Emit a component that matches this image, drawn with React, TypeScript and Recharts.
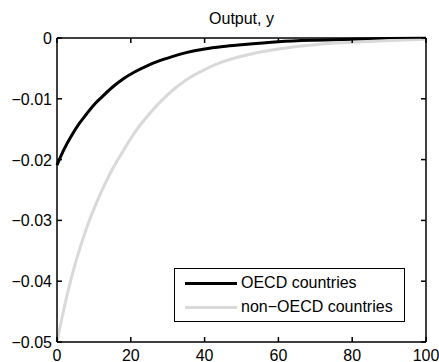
import React from 'react';
import { LineChart, Line, XAxis, YAxis } from 'recharts';

// ─── Data ────────────────────────────────────────────────────────────────────

const periods = [0, 2, 4, 6, 8, 10, 12, 15, 18, 21, 25, 30, 35, 40, 45, 50, 60, 70, 80, 90, 100];
const oecd = [
  -0.0209, -0.0182, -0.0160, -0.0141, -0.0125, -0.0110, -0.0098, -0.0081, -0.0067, -0.0056,
  -0.0044, -0.0033, -0.0024, -0.0018, -0.0014, -0.0011, -0.0006, -0.00035, -0.0002, -0.0001, -0.00005,
];
const nonOecd = [
  -0.0500, -0.0442, -0.0392, -0.0350, -0.0313, -0.0281, -0.0253, -0.0216, -0.0185, -0.0156,
  -0.0125, -0.0093, -0.0069, -0.0052, -0.0039, -0.0030, -0.0018, -0.0011, -0.0007, -0.0004, -0.0002,
];
const seriesLabels = ['OECD countries', 'non\u2212OECD countries'];
const xTicks = [0, 20, 40, 60, 80, 100];
const yTicks = [-0.05, -0.04, -0.03, -0.02, -0.01, 0];

const data = periods.map((t, i) => ({ t, oecd: oecd[i], nonOecd: nonOecd[i] }));

// ─── Style ───────────────────────────────────────────────────────────────────

const FONT = '"Liberation Sans", Arial, Helvetica, sans-serif';
const FS = 16;
const TICK = 5;
const LW = 1.5; // frame + tick width (1px lines dropped out of the render)
const C = { oecd: '#000000', nonOecd: '#d9d9d9', axis: '#000000' };
const X_DOMAIN: [number, number] = [0, 100];
const Y_DOMAIN: [number, number] = [-0.05, 0];

function fmtY(v: number): string {
  return v === 0 ? '0' : '\u2212' + Math.abs(v).toFixed(2);
}

// inward MATLAB-style ticks on all four sides (box on)
const BottomTick = (p: any) => (
  <g>
    <line x1={p.x} x2={p.x} y1={p.y} y2={p.y - TICK} stroke={C.axis} strokeWidth={LW} />
    <text x={p.x} y={p.y + 19} textAnchor="middle" fontSize={FS} fontFamily={FONT} fill="#000">
      {p.payload.value}
    </text>
  </g>
);
const TopTick = (p: any) => (
  <g><line x1={p.x} x2={p.x} y1={p.y} y2={p.y + TICK} stroke={C.axis} strokeWidth={LW} /></g>
);
const LeftTick = (p: any) => (
  <g>
    <line x1={p.x} x2={p.x + TICK} y1={p.y} y2={p.y} stroke={C.axis} strokeWidth={LW} />
    <text x={p.x - 5} y={p.y + 6} textAnchor="end" fontSize={FS} fontFamily={FONT} fill="#000">
      {fmtY(p.payload.value)}
    </text>
  </g>
);
const RightTick = (p: any) => (
  <g><line x1={p.x} x2={p.x - TICK} y1={p.y} y2={p.y} stroke={C.axis} strokeWidth={LW} /></g>
);

const LegendBox = () => (
  <div style={{
    position: 'absolute', left: 174, top: 268, width: 231, height: 54, boxSizing: 'border-box',
    border: '1.5px solid #000', background: '#fff', fontFamily: FONT, fontSize: FS, color: '#000',
  }}>
    {[C.oecd, C.nonOecd].map((color, i) => (
      <div key={i}>
        <div style={{ position: 'absolute', left: 10, top: 14 + i * 24 - 1.5, width: 52, height: 3, background: color }} />
        <div style={{ position: 'absolute', left: 66, top: 4 + i * 24, lineHeight: '20px', whiteSpace: 'nowrap' }}>
          {seriesLabels[i]}
        </div>
      </div>
    ))}
  </div>
);

export default function App() {
  return (
    <div style={{ position: 'absolute', left: 0, top: 0, width: 439, height: 362, background: '#fff' }}>
      <LineChart width={439} height={362} data={data} margin={{ top: 37, right: 12, left: 0, bottom: 0 }}>
        <XAxis xAxisId="bottom" dataKey="t" type="number" domain={X_DOMAIN} ticks={xTicks} height={20}
          axisLine={{ stroke: C.axis, strokeWidth: LW }} tickLine={false} tickSize={0} tickMargin={0} tick={BottomTick} interval={0} />
        <XAxis xAxisId="top" orientation="top" dataKey="t" type="number" domain={X_DOMAIN} ticks={xTicks} height={1}
          axisLine={{ stroke: C.axis, strokeWidth: LW }} tickLine={false} tickSize={0} tickMargin={0} tick={TopTick} interval={0} />
        <YAxis yAxisId="left" type="number" domain={Y_DOMAIN} ticks={yTicks} width={57}
          axisLine={{ stroke: C.axis, strokeWidth: LW }} tickLine={false} tickSize={0} tickMargin={0} tick={LeftTick} interval={0} />
        <YAxis yAxisId="right" orientation="right" type="number" domain={Y_DOMAIN} ticks={yTicks} width={1}
          axisLine={{ stroke: C.axis, strokeWidth: LW }} tickLine={false} tickSize={0} tickMargin={0} tick={RightTick} interval={0} />
        {/* both axis pairs share one domain, so each series keeps one pair alive */}
        <Line xAxisId="bottom" yAxisId="left" type="monotone" dataKey="oecd" name={seriesLabels[0]}
          stroke={C.oecd} strokeWidth={3} dot={false} isAnimationActive={false} />
        <Line xAxisId="top" yAxisId="right" type="monotone" dataKey="nonOecd" name={seriesLabels[1]}
          stroke={C.nonOecd} strokeWidth={3} dot={false} isAnimationActive={false} />
      </LineChart>
      <LegendBox />
      <div style={{
        position: 'absolute', left: 57, width: 369, top: 7, textAlign: 'center',
        fontFamily: FONT, fontSize: FS, lineHeight: '24px', color: '#000',
      }}>
        Output, y
      </div>
    </div>
  );
}
